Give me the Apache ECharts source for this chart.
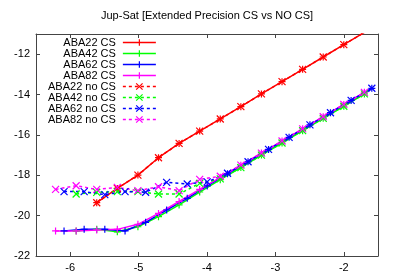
<!DOCTYPE html>
<html><head><meta charset="utf-8">
<script src="https://cdn.jsdelivr.net/npm/echarts@6/dist/echarts.min.js"></script>
<style>html,body{margin:0;padding:0;background:#fff}#c{width:399px;height:279px}</style>
</head><body><div id="c"></div>
<script>
const chartTitle = 'Jup-Sat [Extended Precision CS vs NO CS]';
const xTicks = [-6, -5, -4, -3, -2];
const yTicks = [-22, -20, -18, -16, -14, -12];
const seriesNames = ['ABA22 CS', 'ABA42 CS', 'ABA62 CS', 'ABA82 CS', 'ABA22 no CS', 'ABA42 no CS', 'ABA62 no CS', 'ABA82 no CS'];

// x values (log10 step) for each method
const xRed = [-5.612, -5.311, -5.010, -4.709, -4.408, -4.107, -3.806, -3.505, -3.204, -2.903, -2.602, -2.301, -2.000, -1.699];
const xGreen = [-5.913, -5.612, -5.311, -5.010, -4.709, -4.408, -4.107, -3.806, -3.505, -3.204, -2.903, -2.602, -2.301, -2.000, -1.699];
const xBlue = [-6.090, -5.796, -5.494, -5.198, -4.897, -4.590, -4.289, -3.997, -3.700, -3.400, -3.100, -2.800, -2.495, -2.195, -1.893, -1.590];
const xMagenta = [-6.214, -5.913, -5.612, -5.311, -5.010, -4.709, -4.408, -4.107, -3.806, -3.505, -3.204, -2.903, -2.602, -2.301, -2.000, -1.699];

// y values (log10 error)
const aba22CS = [-19.36, -18.65, -17.99, -17.13, -16.42, -15.81, -15.21, -14.60, -13.97, -13.36, -12.75, -12.14, -11.53, -10.92];
const aba42CS = [-20.76, -20.68, -20.80, -20.55, -20.05, -19.47, -18.83, -18.22, -17.62, -17.00, -16.40, -15.79, -15.18, -14.58, -13.97];
const aba62CS = [-20.76, -20.68, -20.68, -20.76, -20.33, -19.72, -19.14, -18.53, -17.93, -17.33, -16.72, -16.12, -15.50, -14.90, -14.29, -13.69];
const aba82CS = [-20.76, -20.76, -20.71, -20.68, -20.43, -19.89, -19.30, -18.70, -18.10, -17.50, -16.90, -16.30, -15.70, -15.10, -14.49, -13.89];
const aba22NoCS = [-19.36, -18.65, -17.99, -17.13, -16.42, -15.81, -15.21, -14.60, -13.97, -13.36, -12.75, -12.14, -11.53, -10.92];
const aba42NoCS = [-18.93, -18.85, -18.81, -18.81, -18.93, -18.93, -18.40, -18.18, -17.62, -17.00, -16.40, -15.79, -15.18, -14.58, -13.97];
const aba62NoCS = [-18.81, -18.81, -18.96, -18.81, -18.84, -18.35, -18.43, -18.33, -17.90, -17.33, -16.72, -16.12, -15.50, -14.90, -14.29, -13.69];
const aba82NoCS = [-18.70, -18.52, -18.70, -18.60, -18.76, -18.57, -18.76, -18.20, -18.05, -17.50, -16.90, -16.30, -15.70, -15.10, -14.49, -13.89];

const colors = ['#ff0000', '#00ff00', '#0000ff', '#ff00ff'];
const PLUS = 'path://M0,5L10,5M5,0L5,10';
const CROSS = 'path://M0,0L10,10M10,0L0,10';
const FONT = 'Liberation Sans, Arial, sans-serif';

function pairs(xs, ys) { return xs.map((x, i) => [x, ys[i]]); }

const defs = [
  [xRed, aba22CS, 0, false], [xGreen, aba42CS, 1, false], [xBlue, aba62CS, 2, false], [xMagenta, aba82CS, 3, false],
  [xRed, aba22NoCS, 0, true], [xGreen, aba42NoCS, 1, true], [xBlue, aba62NoCS, 2, true], [xMagenta, aba82NoCS, 3, true]
];

const series = defs.map((d, i) => ({
  name: seriesNames[i],
  type: 'line',
  data: pairs(d[0], d[1]),
  symbol: d[3] ? CROSS : PLUS,
  symbolSize: 7,
  clip: true,
  lineStyle: { color: colors[d[2]], width: 1.5, type: d[3] ? [3, 3] : 'solid' },
  itemStyle: { color: colors[d[2]], borderColor: colors[d[2]], borderWidth: 1.2 },
  emphasis: { disabled: true },
  xAxisIndex: 0, yAxisIndex: 0
}));

const axisCol = '#444';
function xAx(pos, labels) {
  return {
    type: 'value', min: -6.5, max: -1.5, position: pos,
    axisLine: { show: true, onZero: false, lineStyle: { color: axisCol, width: 1 } },
    axisTick: { show: true, inside: true, length: 4, customValues: xTicks, lineStyle: { color: axisCol } },
    axisLabel: { show: labels, customValues: xTicks, fontSize: 11, color: '#000', margin: 6, fontFamily: FONT },
    splitLine: { show: false }
  };
}
function yAx(pos, labels) {
  return {
    type: 'value', min: -22, max: -11, position: pos,
    axisLine: { show: true, onZero: false, lineStyle: { color: axisCol, width: 1 } },
    axisTick: { show: true, inside: true, length: 4, customValues: yTicks, lineStyle: { color: axisCol } },
    axisLabel: { show: labels, customValues: yTicks, fontSize: 11, color: '#000', margin: 6, fontFamily: FONT },
    splitLine: { show: false }
  };
}

const chart = echarts.init(document.getElementById('c'), null, { renderer: 'canvas' });
chart.setOption({
  animation: false,
  backgroundColor: '#fff',
  title: {
    text: chartTitle, left: 101, top: 10, padding: 0,
    textStyle: { fontSize: 11, fontWeight: 'normal', color: '#000', fontFamily: FONT, lineHeight: 12 }
  },
  grid: { left: 36, right: 21, top: 34, bottom: 23, containLabel: false },
  legend: {
    orient: 'vertical', align: 'right', left: 48, top: 37, padding: 0,
    itemWidth: 33, itemHeight: 8, itemGap: 0,
    lineStyle: { width: 1.5 },
    itemStyle: { borderWidth: 1.2 },
    textStyle: { fontSize: 11, color: '#000', fontFamily: FONT, lineHeight: 11, padding: [0, 2, 0, 0] },
    data: seriesNames
  },
  xAxis: [xAx('bottom', true), xAx('top', false)],
  yAxis: [yAx('left', true), yAx('right', false)],
  series: series
});
</script>
</body></html>
